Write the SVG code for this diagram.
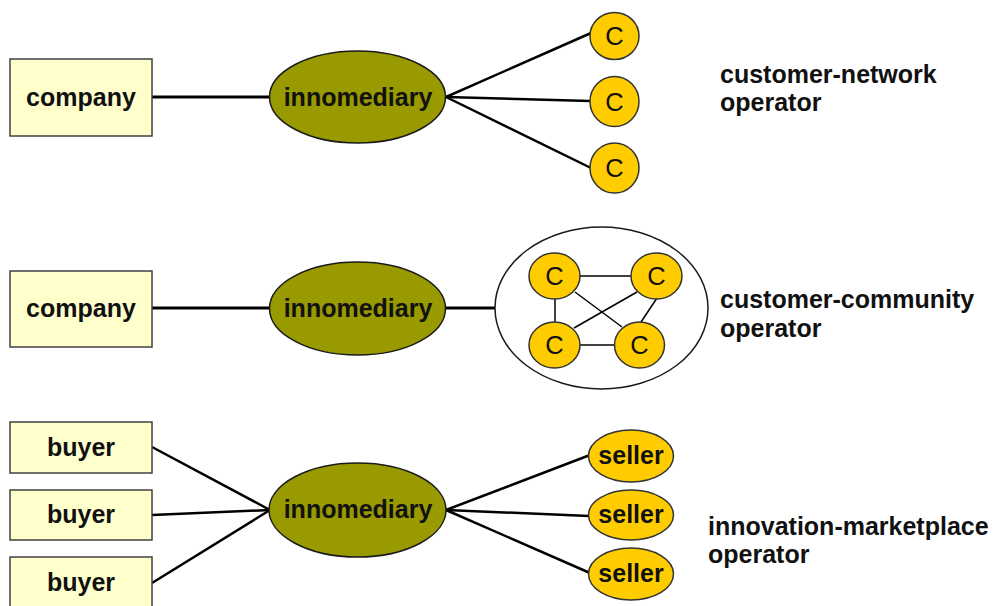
<svg xmlns="http://www.w3.org/2000/svg" width="995" height="606" viewBox="0 0 995 606">
  <style>
    .box { fill: #FFFFCC; stroke: #404040; stroke-width: 1.5; }
    .hub { fill: #999900; stroke: #1a1a1a; stroke-width: 1.5; }
    .cust { fill: #FFCC00; stroke: #333333; stroke-width: 1.5; }
    .cloud { fill: #FFFFFF; stroke: #1a1a1a; stroke-width: 1.5; }
    .lbl { font-family: "Liberation Sans", Arial, sans-serif; font-weight: bold; font-size: 25px; fill: #111111; text-anchor: middle; }
    .c { font-family: "Liberation Sans", Arial, sans-serif; font-size: 25.5px; fill: #111111; text-anchor: middle; }
    .side { font-family: "Liberation Sans", Arial, sans-serif; font-weight: bold; font-size: 25px; fill: #111111; }
    .thick { stroke: #000000; stroke-width: 3.2; fill: none; }
    .fan { stroke: #000000; stroke-width: 2.5; fill: none; }
    .thin { stroke: #000000; stroke-width: 1.5; fill: none; }
  </style>

  <!-- connectors -->
  <g id="connectors">
    <!-- customer-network -->
    <line class="thick" x1="152" y1="97" x2="270" y2="97"/>
    <line class="fan" x1="446" y1="97" x2="591" y2="33"/>
    <line class="fan" x1="446" y1="97" x2="590" y2="101"/>
    <line class="fan" x1="446" y1="97" x2="591" y2="168"/>
    <!-- customer-community -->
    <line class="thick" x1="152" y1="308" x2="270" y2="308"/>
    <line class="thick" x1="446" y1="308" x2="495" y2="308"/>
    <!-- innovation-marketplace -->
    <line class="fan" x1="152" y1="447" x2="270" y2="510"/>
    <line class="fan" x1="152" y1="515" x2="270" y2="510"/>
    <line class="fan" x1="152" y1="583" x2="270" y2="510"/>
    <line class="fan" x1="446" y1="510" x2="590" y2="455"/>
    <line class="fan" x1="446" y1="510" x2="589" y2="516"/>
    <line class="fan" x1="446" y1="510" x2="590" y2="573"/>
  </g>

  <!-- row 1: customer-network operator -->
  <g id="company1">
    <rect class="box" x="10" y="59" width="142" height="77"/>
    <text class="lbl" x="81" y="106">company</text>
  </g>
  <g id="innomediary1">
    <ellipse class="hub" cx="357.5" cy="97" rx="88" ry="46"/>
    <text class="lbl" x="358" y="106">innomediary</text>
  </g>
  <g id="c1a">
    <ellipse class="cust" cx="614.5" cy="36" rx="24.5" ry="23.5"/>
    <text class="c" x="614.5" y="45">C</text>
  </g>
  <g id="c1b">
    <ellipse class="cust" cx="614.5" cy="101.5" rx="24.5" ry="25"/>
    <text class="c" x="614.5" y="110.5">C</text>
  </g>
  <g id="c1c">
    <ellipse class="cust" cx="614.5" cy="168" rx="24.5" ry="25"/>
    <text class="c" x="614.5" y="177">C</text>
  </g>
  <g id="label1">
    <text class="side" x="720" y="83">customer-network</text>
    <text class="side" x="720" y="111">operator</text>
  </g>

  <!-- row 2: customer-community operator -->
  <g id="company2">
    <rect class="box" x="10" y="271" width="142" height="76"/>
    <text class="lbl" x="81" y="317">company</text>
  </g>
  <g id="innomediary2">
    <ellipse class="hub" cx="357.5" cy="308.5" rx="88" ry="46.5"/>
    <text class="lbl" x="358" y="317">innomediary</text>
  </g>
  <g id="community">
    <ellipse class="cloud" cx="601.5" cy="308" rx="106.5" ry="81"/>
    <g id="community-links">
      <line class="thin" x1="578" y1="276" x2="633" y2="276"/>
      <line class="thin" x1="555" y1="298" x2="555" y2="323"/>
      <line class="thin" x1="578" y1="345" x2="616" y2="345"/>
      <line class="thin" x1="575" y1="292" x2="622" y2="327"/>
      <line class="thin" x1="637" y1="292" x2="574" y2="328"/>
      <line class="thin" x1="657" y1="298" x2="641" y2="322"/>
    </g>
    <g id="c2a">
      <ellipse class="cust" cx="554.5" cy="276" rx="25.5" ry="23"/>
      <text class="c" x="554.5" y="285">C</text>
    </g>
    <g id="c2b">
      <ellipse class="cust" cx="656.5" cy="276" rx="25.5" ry="23"/>
      <text class="c" x="656.5" y="285">C</text>
    </g>
    <g id="c2c">
      <ellipse class="cust" cx="554.5" cy="345" rx="25.5" ry="23"/>
      <text class="c" x="554.5" y="354">C</text>
    </g>
    <g id="c2d">
      <ellipse class="cust" cx="639.5" cy="345" rx="25" ry="23"/>
      <text class="c" x="639.5" y="354">C</text>
    </g>
  </g>
  <g id="label2">
    <text class="side" x="720" y="308">customer-community</text>
    <text class="side" x="720" y="337">operator</text>
  </g>

  <!-- row 3: innovation-marketplace operator -->
  <g id="buyer1">
    <rect class="box" x="10" y="422" width="142" height="51"/>
    <text class="lbl" x="81" y="456">buyer</text>
  </g>
  <g id="buyer2">
    <rect class="box" x="10" y="490" width="142" height="50"/>
    <text class="lbl" x="81" y="523">buyer</text>
  </g>
  <g id="buyer3">
    <rect class="box" x="10" y="557" width="142" height="52"/>
    <text class="lbl" x="81" y="591">buyer</text>
  </g>
  <g id="innomediary3">
    <ellipse class="hub" cx="357.5" cy="510" rx="88.5" ry="47"/>
    <text class="lbl" x="358" y="518">innomediary</text>
  </g>
  <g id="seller1">
    <ellipse class="cust" cx="631" cy="456" rx="42.5" ry="26"/>
    <text class="lbl" x="631" y="464">seller</text>
  </g>
  <g id="seller2">
    <ellipse class="cust" cx="631" cy="515" rx="42.5" ry="25"/>
    <text class="lbl" x="631" y="523">seller</text>
  </g>
  <g id="seller3">
    <ellipse class="cust" cx="631" cy="574" rx="42.5" ry="26"/>
    <text class="lbl" x="631" y="582">seller</text>
  </g>
  <g id="label3">
    <text class="side" x="708" y="535">innovation-marketplace</text>
    <text class="side" x="708" y="563">operator</text>
  </g>
</svg>
